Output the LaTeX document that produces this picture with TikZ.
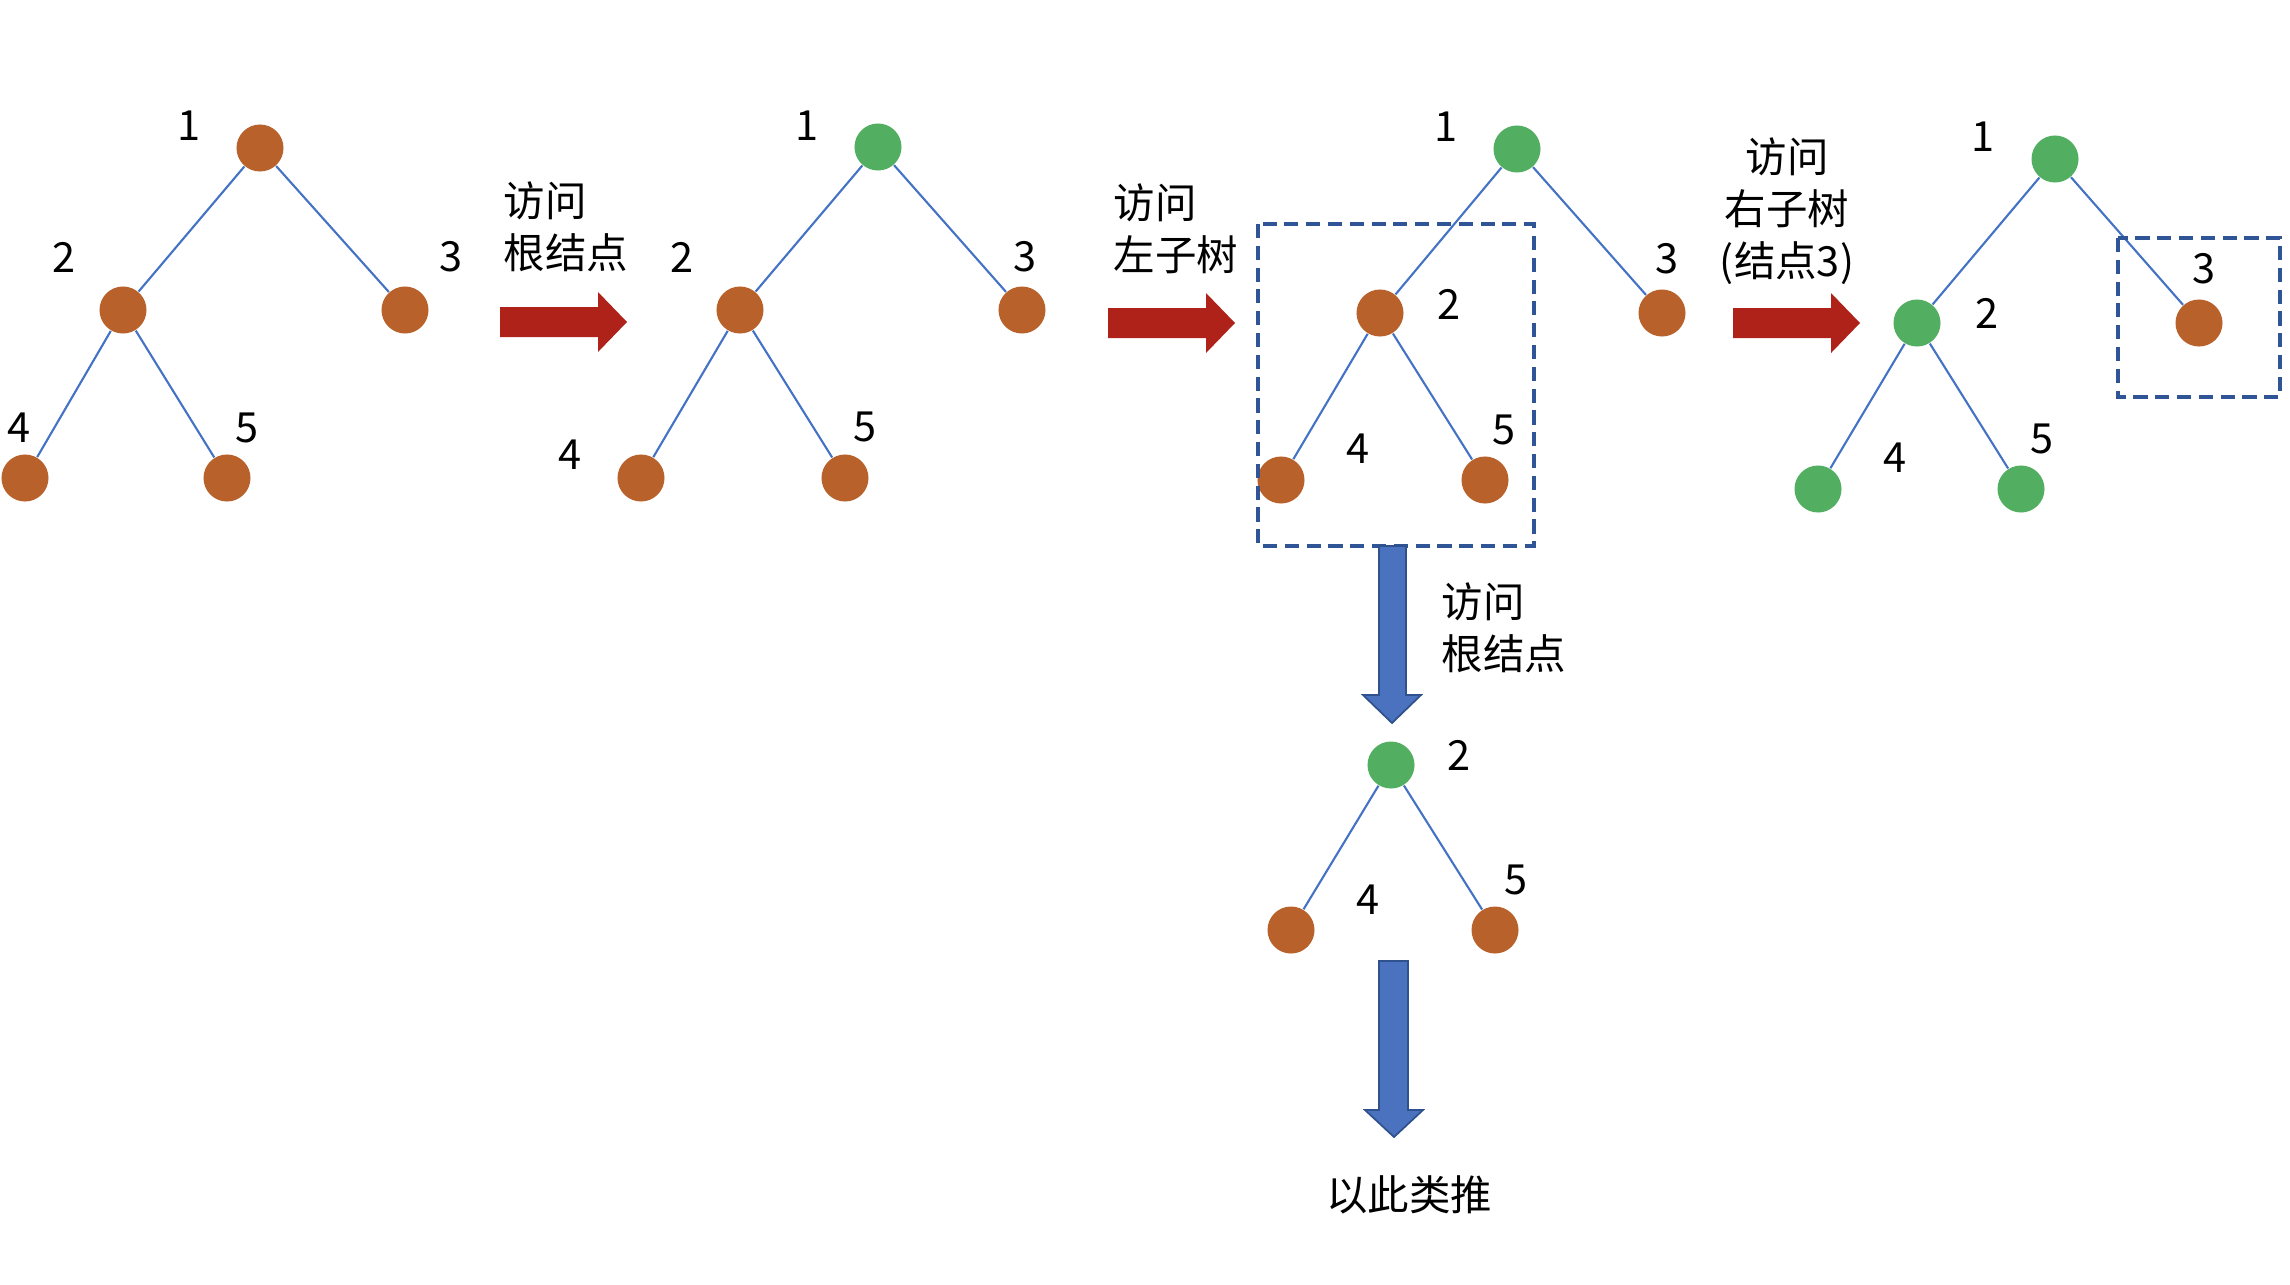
\documentclass[tikz,border=0pt]{standalone}
\usepackage{fontspec}
\newfontfamily\cjk{Noto Sans CJK SC}
\definecolor{nodeorange}{RGB}{184,97,43}
\definecolor{nodegreen}{RGB}{82,174,96}
\definecolor{linkblue}{RGB}{68,114,196}
\definecolor{arrowred}{RGB}{174,34,26}
\definecolor{arrowblue}{RGB}{74,114,190}
\definecolor{arrowedge}{RGB}{47,82,143}
\definecolor{boxblue}{RGB}{47,85,151}
\tikzset{
  ball/.style={circle, minimum size=0.47cm, inner sep=0pt},
  todo/.style={ball, fill=nodeorange},
  done/.style={ball, fill=nodegreen},
  link/.style={linkblue, line width=0.6pt},
  num/.style={font=\cjk\fontsize{11.8}{14.8}\selectfont, inner sep=0pt},
  note/.style={num, align=left},
  dashbox/.style={boxblue, line width=1pt, dash pattern=on 4pt off 2.2pt},
  redarrow/.style={fill=arrowred},
  bluearrow/.style={fill=arrowblue, draw=arrowedge, line width=0.5pt}
}
\begin{document}
\begin{tikzpicture}[x=0.01cm, y=-0.01cm]
    \useasboundingbox (0,0) rectangle (2290,1284);

    % Tree 1 (nothing visited)
    \node[todo] (a1) at (260,148) {};
    \node[todo] (a2) at (123,310) {};
    \node[todo] (a3) at (405,310) {};
    \node[todo] (a4) at (25,478) {};
    \node[todo] (a5) at (227,478) {};
    \draw[link] (a1) -- (a2) (a1) -- (a3) (a2) -- (a4) (a2) -- (a5);
    \node[num] (la1) at (189,126) {1};
    \node[num] (la2) at (64,257) {2};
    \node[num] (la3) at (451,257) {3};
    \node[num] (la4) at (19,428) {4};
    \node[num] (la5) at (247,428) {5};

    % Arrow 1
    \fill[redarrow] (500,307) -- ++(98,0) -- ++(0,-15) -- ++(29,30) -- ++(-29,30) -- ++(0,-15) -- ++(-98,0) -- cycle;
    \node[note] (ta) at (566,227) {访问\\根结点};

    % Tree 2 (root visited)
    \node[done] (b1) at (878,147) {};
    \node[todo] (b2) at (740,310) {};
    \node[todo] (b3) at (1022,310) {};
    \node[todo] (b4) at (641,478) {};
    \node[todo] (b5) at (845,478) {};
    \draw[link] (b1) -- (b2) (b1) -- (b3) (b2) -- (b4) (b2) -- (b5);
    \node[num] (lb1) at (807,126) {1};
    \node[num] (lb2) at (682,257) {2};
    \node[num] (lb3) at (1025,257) {3};
    \node[num] (lb4) at (570,455) {4};
    \node[num] (lb5) at (865,427) {5};

    % Arrow 2
    \fill[redarrow] (1108,308) -- ++(98,0) -- ++(0,-15) -- ++(29,30) -- ++(-29,30) -- ++(0,-15) -- ++(-98,0) -- cycle;
    \node[note] (tb) at (1176,229) {访问\\左子树};

    % Tree 3 (left subtree boxed)
    \node[done] (c1) at (1517,149) {};
    \node[todo] (c2) at (1380,313) {};
    \node[todo] (c3) at (1662,313) {};
    \node[todo] (c4) at (1281,480) {};
    \node[todo] (c5) at (1485,480) {};
    \draw[link] (c1) -- (c2) (c1) -- (c3) (c2) -- (c4) (c2) -- (c5);
    \node[num] (lc1) at (1446,127) {1};
    \node[num] (lc2) at (1449,304) {2};
    \node[num] (lc3) at (1667,259) {3};
    \node[num] (lc4) at (1358,449) {4};
    \node[num] (lc5) at (1504,430) {5};
    \draw[dashbox] (1258,224) rectangle (1534,546);

    % Arrow 3
    \fill[redarrow] (1733,308) -- ++(98,0) -- ++(0,-15) -- ++(29,30) -- ++(-29,30) -- ++(0,-15) -- ++(-98,0) -- cycle;
    \node[num, align=center] (tc) at (1787,211) {访问\\右子树\\(结点3)};

    % Tree 4 (right subtree boxed)
    \node[done] (d1) at (2055,159) {};
    \node[done] (d2) at (1917,323) {};
    \node[todo] (d3) at (2199,323) {};
    \node[done] (d4) at (1818,489) {};
    \node[done] (d5) at (2021,489) {};
    \draw[link] (d1) -- (d2) (d1) -- (d3) (d2) -- (d4) (d2) -- (d5);
    \node[num] (ld1) at (1983,137) {1};
    \node[num] (ld2) at (1987,313) {2};
    \node[num] (ld3) at (2204,269) {3};
    \node[num] (ld4) at (1895,458) {4};
    \node[num] (ld5) at (2042,439) {5};
    \draw[dashbox] (2118,238) rectangle (2280,397);

    % Down: left subtree on its own
    \filldraw[bluearrow] (1379,546) -- (1406,546) -- (1406,695) -- (1421,695) -- (1392,723) -- (1363,695) -- (1379,695) -- cycle;
    \node[note] (td) at (1504,628) {访问\\根结点};
    \node[done] (e2) at (1391,765) {};
    \node[todo] (e4) at (1291,930) {};
    \node[todo] (e5) at (1495,930) {};
    \draw[link] (e2) -- (e4) (e2) -- (e5);
    \node[num] (le2) at (1459,755) {2};
    \node[num] (le4) at (1368,900) {4};
    \node[num] (le5) at (1516,880) {5};

    % And so on
    \filldraw[bluearrow] (1379,961) -- (1408,961) -- (1408,1110) -- (1423,1110) -- (1394,1137) -- (1365,1110) -- (1379,1110) -- cycle;
    \node[num] (te) at (1409,1195) {以此类推};
\end{tikzpicture}
\end{document}
